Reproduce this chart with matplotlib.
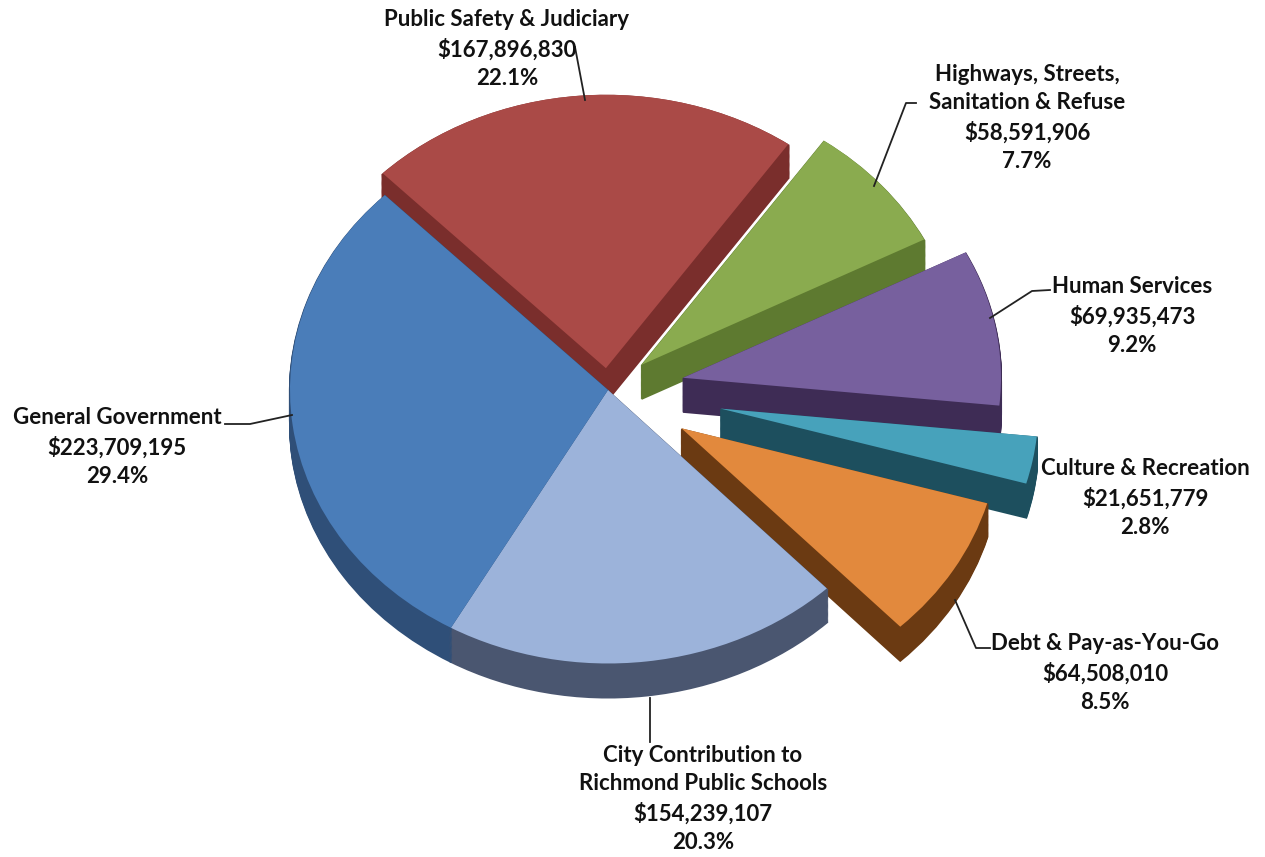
import matplotlib.pyplot as plt

# budget categories, clockwise from the top
labels = ["Highways, Streets,\nSanitation & Refuse", "Human Services", "Culture & Recreation",
          "Debt & Pay-as-You-Go", "City Contribution to\nRichmond Public Schools",
          "General Government", "Public Safety & Judiciary"]
amounts = ["$58,591,906", "$69,935,473", "$21,651,779", "$64,508,010",
           "$154,239,107", "$223,709,195", "$167,896,830"]
shares = [7.7, 9.2, 2.8, 8.5, 20.3, 29.4, 22.1]
explode = [0.14, 0.24, 0.36, 0.27, 0.0, 0.0, 0.08]
top_colors = ["#8aab4f", "#77609e", "#47a2bb", "#e2893d", "#9cb3da", "#4a7db9", "#aa4a47"]
side_colors = ["#5e7a30", "#3e2c55", "#1d4f5e", "#6b3a12", "#4a5670", "#2f4f78", "#7a2e2c"]

W, H = 1265, 857
K = 0.86  # vertical squash of the pie (fake tilt)


def P(px, py):
    # picture pixel -> data coords
    return px, (H - py) / K


fig = plt.figure(figsize=(W / 100, H / 100), dpi=100)
ax = fig.add_axes([0, 0, 1, 1])

cx, cy = P(608, 390)
R = 318
depth = 34 / K
n = 30
expl = [e * R for e in explode]

# side walls: stacked darker pies
for i in range(n, 0, -1):
    ax.pie(shares, explode=expl, startangle=55, counterclock=False,
           colors=side_colors, radius=R, center=(cx, cy - depth * i / n),
           wedgeprops=dict(linewidth=1.5), frame=True)
    for w, c in zip(ax.patches[-len(shares):], side_colors):
        w.set_edgecolor(c)
# top face
ax.pie(shares, explode=expl, startangle=55, counterclock=False,
       colors=top_colors, radius=R, center=(cx, cy),
       wedgeprops=dict(linewidth=0), frame=True)

ax.set_xlim(0, W)
ax.set_ylim(0, H / K)
ax.set_aspect("auto")
ax.axis("off")

# label block centres (pixels)
label_pos = [(1027, 118), (1132, 316), (1145, 498), (1105, 673),
             (703, 799), (117, 447), (507, 49)]
for lab, amt, sh, (px, py) in zip(labels, amounts, shares, label_pos):
    x, y = P(px, py)
    ax.text(x, y, f"{lab}\n{amt}\n{sh}%", ha="center", va="center",
            fontsize=16, fontweight="bold", family="Lato", linespacing=1.45,
            color="#111111")

# leader lines
leaders = [
    [(575, 47), (585, 100)],
    [(916, 103), (906, 103), (874, 186)],
    [(1050, 290), (1032, 291), (990, 318)],
    [(225, 424), (250, 424), (292, 415)],
    [(990, 648), (976, 648), (955, 600)],
    [(650, 742), (650, 698)],
]
for pts in leaders:
    xs, ys = zip(*[P(a, b) for a, b in pts])
    ax.plot(xs, ys, color="#222222", lw=1.3)

fig.savefig("out.png", dpi=100)
